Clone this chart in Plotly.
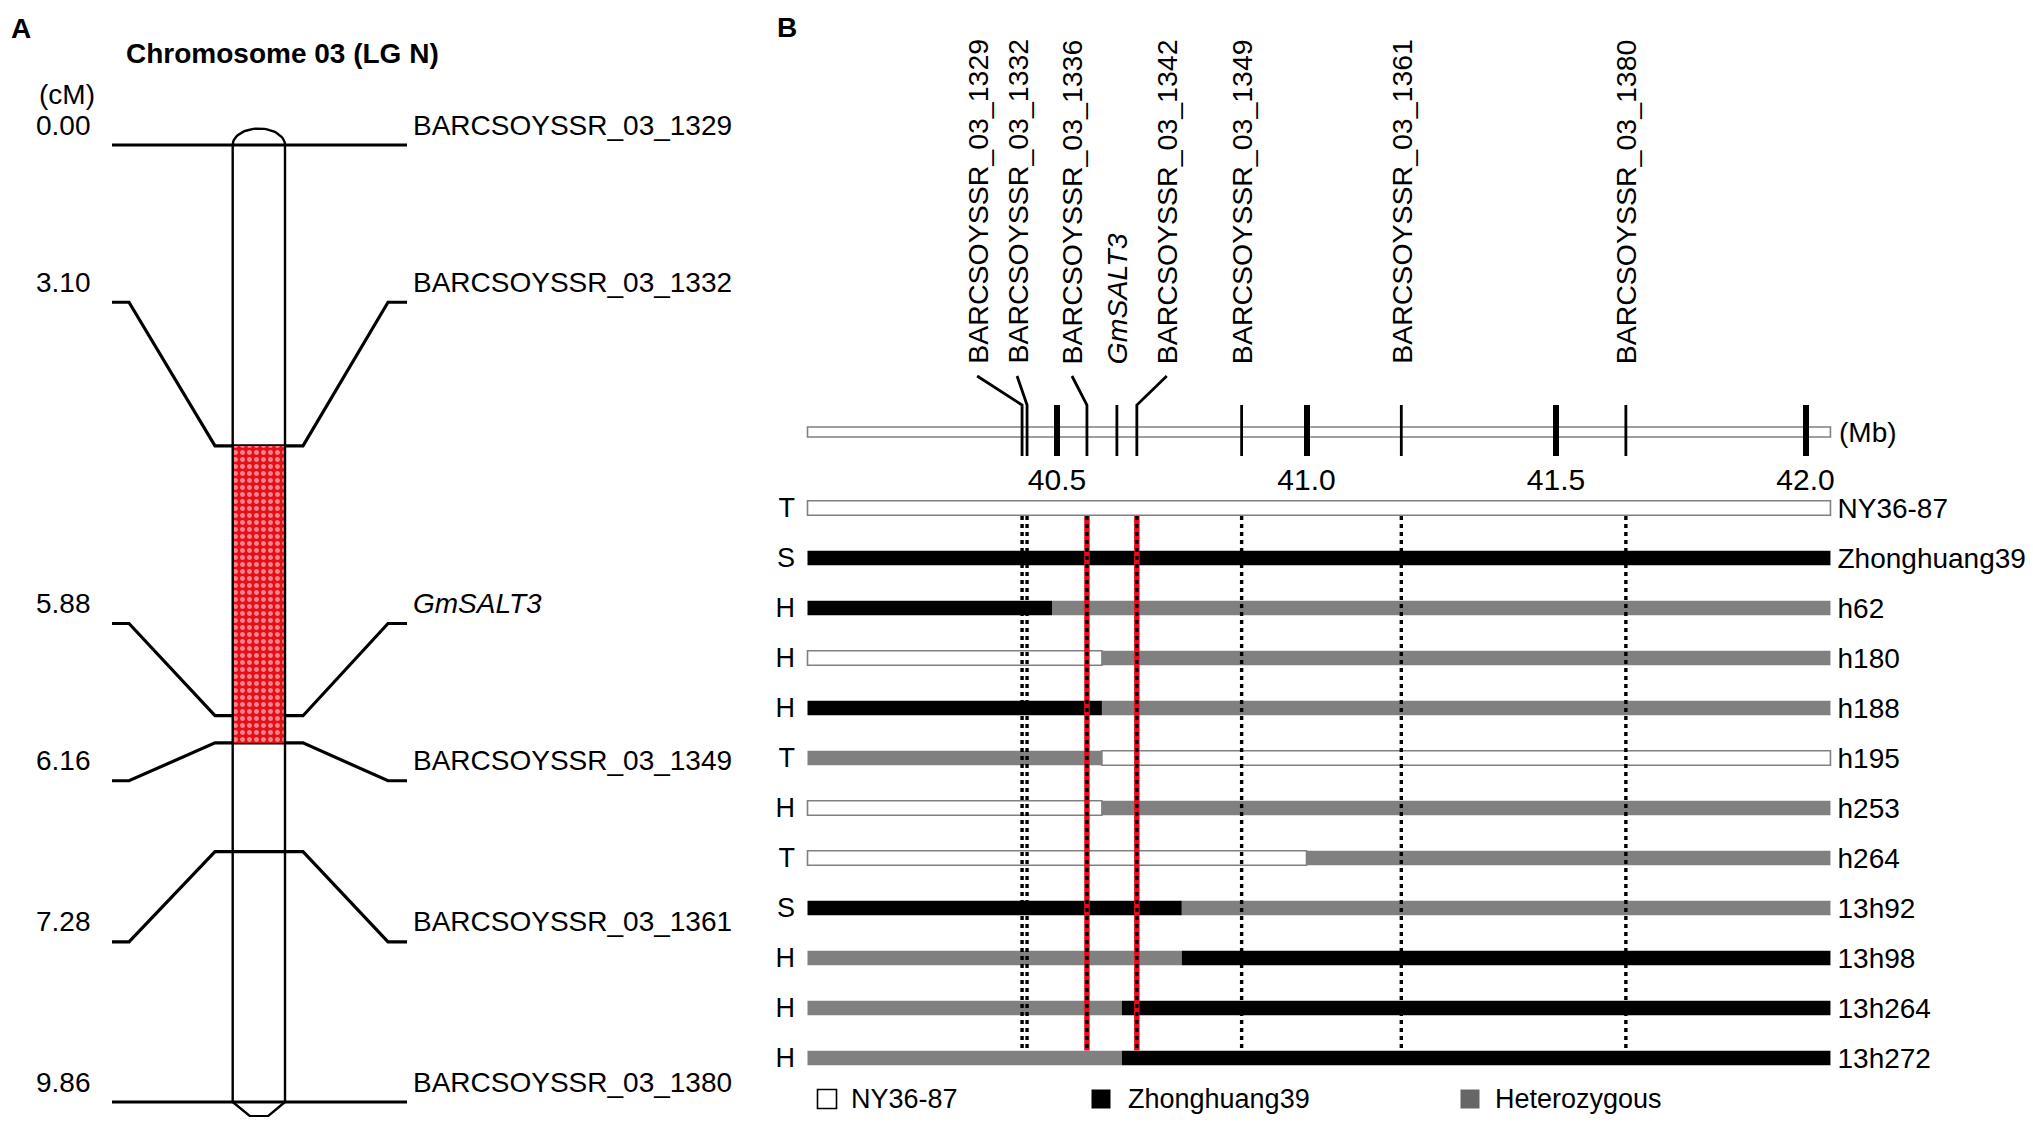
import math
import plotly.graph_objects as go

# ---------------- data ----------------
# Panel A: genetic linkage map (cM)
map_markers = ["BARCSOYSSR_03_1329", "BARCSOYSSR_03_1332", "GmSALT3",
               "BARCSOYSSR_03_1349", "BARCSOYSSR_03_1361", "BARCSOYSSR_03_1380"]
map_cm = [0.00, 3.10, 5.88, 6.16, 7.28, 9.86]
map_cm_text = ["0.00", "3.10", "5.88", "6.16", "7.28", "9.86"]
map_label_cm = [0.00, 1.62, 4.93, 6.55, 8.21, 9.86]   # spread label rows
qtl_interval_cm = [3.10, 6.16]

# Panel B: physical map (Mb)
phys_markers = ["BARCSOYSSR_03_1329", "BARCSOYSSR_03_1332", "BARCSOYSSR_03_1336",
                "GmSALT3", "BARCSOYSSR_03_1342", "BARCSOYSSR_03_1349",
                "BARCSOYSSR_03_1361", "BARCSOYSSR_03_1380"]
phys_mb = [40.43, 40.44, 40.56, 40.62, 40.66, 40.87, 41.19, 41.64]
phys_label_mb = [40.34, 40.42, 40.53, 40.62, 40.72, 40.87, 41.19, 41.64]
flanking_markers = ["BARCSOYSSR_03_1336", "BARCSOYSSR_03_1342"]
chrom_span_mb = [40.0, 42.05]
mb_ticks = [40.5, 41.0, 41.5, 42.0]
mb_tick_text = ["40.5", "41.0", "41.5", "42.0"]

# Genotypes of lines (A = NY36-87, B = Zhonghuang39, H = heterozygous)
lines = ["NY36-87", "Zhonghuang39", "h62", "h180", "h188", "h195", "h253",
         "h264", "13h92", "13h98", "13h264", "13h272"]
phenotypes = ["T", "S", "H", "H", "H", "T", "H", "T", "S", "H", "H", "H"]
left_genotype = ["A", "B", "B", "A", "B", "H", "A", "A", "B", "H", "H", "H"]
breakpoint_mb = [None, None, 40.49, 40.59, 40.59, 40.59, 40.59, 41.00,
                 40.75, 40.75, 40.63, 40.63]
right_genotype = ["A", "B", "H", "H", "H", "A", "H", "H", "H", "B", "B", "B"]
legend_names = {"A": "NY36-87", "B": "Zhonghuang39", "H": "Heterozygous"}

# ---------------- styling / layout constants ----------------
WIN_W, WIN_H = 2033, 1125
OFF = 8                      # default page body margin
FW, FH = WIN_W - 2 * OFF, WIN_H - 2 * OFF
FONT = "Liberation Sans, Arial, sans-serif"
FS = 28
GENO_COLOR = {"A": "white", "B": "black", "H": "#808080"}
LEG_COLOR = {"A": "white", "B": "black", "H": "#666666"}


def pxx(px):
    return (px - OFF) / FW


def pxy(py):
    return 1 - (py - OFF) / FH


# panel A (x in screen-pixel-like units, y in cM)
A_SPLIT = 760
XL0, XL1, XK0, CH_L, CH_R, XK1, XR1, XR0 = 112, 129, 215, 232.7, 285, 303, 388, 407
CM_AT_PY = lambda py: (py - 145) / 97.06

# panel B (x in Mb, y in row units)
MB_AT_PX = lambda px: 40.5 + (px - 1057) / 499.0
ROW_AT_PY = lambda py: (py - 508) / 50.0
CHR_ROW = -1.52
MARK_TOP, MARK_BOT = -2.06, -1.04
CONN_TOP = -2.64
LABEL_BOTTOM = -2.84
LEG_ROW = 11.82

fig = go.Figure()

# ================= Panel A =================
xs, ys = [], []
for cm, lab in zip(map_cm, map_label_cm):
    xs += [XL0, XL1, XK0, XK1, XR1, XR0, None]
    ys += [lab, lab, cm, cm, lab, lab, None]
fig.add_trace(go.Scatter(x=xs, y=ys, mode="lines", xaxis="x2", yaxis="y2",
                         line=dict(color="black", width=3.2), hoverinfo="skip",
                         showlegend=False))
# QTL interval (red checkered)
fig.add_trace(go.Scatter(
    x=[CH_L, CH_R, CH_R, CH_L, CH_L],
    y=[qtl_interval_cm[0], qtl_interval_cm[0], qtl_interval_cm[1], qtl_interval_cm[1], qtl_interval_cm[0]],
    mode="lines", fill="toself", xaxis="x2", yaxis="y2",
    line=dict(width=0, color="red"), fillcolor="red",
    fillpattern=dict(shape=".", bgcolor="#e60f19", fgcolor="white", size=7, solidity=0.4),
    hoverinfo="skip", showlegend=False))
# chromosome outline with caps
cap_h = 0.17
top_x, top_y = [], []
for i in range(0, 31):
    t = math.pi * i / 30
    top_x.append((CH_L + CH_R) / 2 - (CH_R - CH_L) / 2 * math.cos(t))
    top_y.append(map_cm[0] - cap_h * math.sin(t))
cx = [CH_L, CH_L, None, CH_R, CH_R, None] + top_x + [None, CH_L, 250, 268, CH_R]
cy = [map_cm[0], map_cm[-1], None, map_cm[0], map_cm[-1], None] + top_y + \
     [None, map_cm[-1], map_cm[-1] + 0.145, map_cm[-1] + 0.145, map_cm[-1]]
fig.add_trace(go.Scatter(x=cx, y=cy, mode="lines", xaxis="x2", yaxis="y2",
                         line=dict(color="black", width=2.4), hoverinfo="skip",
                         showlegend=False))

ann = []
for name, txt, lab in zip(map_markers, map_cm_text, map_label_cm):
    ann.append(dict(x=93, y=lab, xref="x2", yref="y2", text=txt, showarrow=False,
                    xanchor="right", yanchor="middle", yshift=20,
                    font=dict(size=FS, color="black", family=FONT)))
    label = "<i>%s</i>" % name if name == "GmSALT3" else name
    ann.append(dict(x=411, y=lab, xref="x2", yref="y2", text=label, showarrow=False,
                    xanchor="left", yanchor="middle", yshift=20,
                    font=dict(size=FS, color="black", family=FONT)))
ann.append(dict(x=37, y=pxy(94), xref="x2", yref="paper", text="(cM)", showarrow=False,
                xanchor="left", yanchor="middle", font=dict(size=FS, color="black", family=FONT)))
ann.append(dict(x=pxx(21), y=pxy(29), xref="paper", yref="paper", text="<b>A</b>",
                showarrow=False, xanchor="center", yanchor="middle",
                font=dict(size=FS, color="black", family=FONT)))
ann.append(dict(x=pxx(787), y=pxy(28), xref="paper", yref="paper", text="<b>B</b>",
                showarrow=False, xanchor="center", yanchor="middle",
                font=dict(size=FS, color="black", family=FONT)))
ann.append(dict(x=pxx(282), y=pxy(53), xref="paper", yref="paper",
                text="<b>Chromosome 03 (LG N)</b>", showarrow=False,
                xanchor="center", yanchor="middle",
                font=dict(size=FS, color="black", family=FONT)))

# ================= Panel B =================
segs = {"A": ([], [], []), "B": ([], [], []), "H": ([], [], [])}
for r, (lg, bp, rg) in enumerate(zip(left_genotype, breakpoint_mb, right_genotype)):
    if bp is None:
        segs[lg][0].append(r); segs[lg][1].append(chrom_span_mb[0]); segs[lg][2].append(chrom_span_mb[1] - chrom_span_mb[0])
    else:
        segs[lg][0].append(r); segs[lg][1].append(chrom_span_mb[0]); segs[lg][2].append(bp - chrom_span_mb[0])
        segs[rg][0].append(r); segs[rg][1].append(bp); segs[rg][2].append(chrom_span_mb[1] - bp)
for g in ["H", "B", "A"]:
    rows, bases, lens = segs[g]
    fig.add_trace(go.Bar(
        orientation="h", y=rows, x=lens, base=bases, width=0.29,
        marker=dict(color=GENO_COLOR[g],
                    line=dict(color="#808080", width=1.6 if g == "A" else 0)),
        xaxis="x", yaxis="y", showlegend=False, hoverinfo="skip"))

# chromosome bar (physical)
fig.add_trace(go.Bar(orientation="h", y=[CHR_ROW], x=[chrom_span_mb[1] - chrom_span_mb[0]],
                     base=[chrom_span_mb[0]], width=0.2,
                     marker=dict(color="white", line=dict(color="#808080", width=1.6)),
                     xaxis="x", yaxis="y", showlegend=False, hoverinfo="skip"))

# marker ticks + connectors
mx, my = [], []
for m, lm in zip(phys_mb, phys_label_mb):
    if abs(m - lm) > 1e-9:
        mx += [lm, m, m, None]
        my += [CONN_TOP, MARK_TOP, MARK_BOT, None]
    else:
        mx += [m, m, None]
        my += [MARK_TOP, MARK_BOT, None]
fig.add_trace(go.Scatter(x=mx, y=my, mode="lines", xaxis="x", yaxis="y",
                         line=dict(color="black", width=2.8), hoverinfo="skip",
                         showlegend=False))

# marker names (vertical)
for name, lm in zip(phys_markers, phys_label_mb):
    label = "<i>%s</i>" % name if name == "GmSALT3" else name
    ann.append(dict(x=lm, y=LABEL_BOTTOM, xref="x", yref="y", text=label, textangle=-90,
                    showarrow=False, xanchor="center", yanchor="bottom",
                    font=dict(size=FS + 0.5, color="black", family=FONT)))
ann.append(dict(x=MB_AT_PX(1837), y=CHR_ROW, xref="x", yref="y", text="(Mb)",
                showarrow=False, xanchor="left", yanchor="middle",
                font=dict(size=FS, color="black", family=FONT)))

# vertical dotted guide lines through the genotype panel
for name, m in zip(phys_markers, phys_mb):
    if name == "GmSALT3":
        continue
    if name in flanking_markers:
        fig.add_trace(go.Scatter(x=[m, m], y=[0.16, 10.85], mode="lines", xaxis="x", yaxis="y",
                                 line=dict(color="#e60f19", width=5.5), hoverinfo="skip",
                                 showlegend=False))
    fig.add_trace(go.Scatter(x=[m, m], y=[0.16, 10.85], mode="lines", xaxis="x", yaxis="y",
                             line=dict(color="black", width=3.4, dash="4px,4px"),
                             hoverinfo="skip", showlegend=False))

# legend (manual, below the rows)
leg_sq_px = {"A": 827, "B": 1101, "H": 1470}
leg_tx_px = {"A": 849, "B": 1126, "H": 1493}
for g in ["A", "B", "H"]:
    fig.add_trace(go.Scatter(x=[MB_AT_PX(leg_sq_px[g])], y=[LEG_ROW], mode="markers",
                             xaxis="x", yaxis="y",
                             marker=dict(symbol="square", size=19, color=LEG_COLOR[g],
                                         line=dict(color="black", width=1.6 if g == "A" else 0)),
                             hoverinfo="skip", showlegend=False))
    ann.append(dict(x=MB_AT_PX(leg_tx_px[g]), y=LEG_ROW, xref="x", yref="y",
                    text=legend_names[g], showarrow=False, xanchor="left", yanchor="middle",
                    font=dict(size=FS - 1, color="black", family=FONT)))

# dummy trace to activate the phenotype axis
fig.add_trace(go.Scatter(x=[None], y=[None], xaxis="x", yaxis="y3", showlegend=False))

row_range = [ROW_AT_PY(OFF + FH), ROW_AT_PY(OFF)]
fig.update_layout(
    width=FW, height=FH, autosize=False,
    margin=dict(l=0, r=0, t=0, b=0, pad=0),
    paper_bgcolor="white", plot_bgcolor="rgba(0,0,0,0)",
    barmode="overlay", showlegend=False,
    font=dict(family=FONT, color="black"),
    xaxis=dict(domain=[pxx(A_SPLIT), 1], range=[MB_AT_PX(A_SPLIT), MB_AT_PX(OFF + FW)],
               anchor="free", position=pxy(456), side="bottom",
               tickvals=mb_ticks, ticktext=mb_tick_text, ticks="inside",
               ticklen=51, tickwidth=6, tickcolor="black",
               showgrid=False, zeroline=False, showline=False,
               tickfont=dict(size=FS + 2, family=FONT, color="black"),
               ticklabelstandoff=3),
    yaxis=dict(domain=[0, 1], range=row_range, anchor="free",
               position=pxx(1831.5), side="right",
               tickvals=list(range(len(lines))), ticktext=lines, ticks="",
               showgrid=False, zeroline=False, showline=False,
               tickfont=dict(size=FS, family=FONT, color="black"),
               ticklabelstandoff=5),
    yaxis3=dict(overlaying="y", range=row_range, anchor="free",
                position=pxx(797), side="left",
                tickvals=list(range(len(lines))), ticktext=phenotypes, ticks="",
                showgrid=False, zeroline=False, showline=False,
                tickfont=dict(size=FS - 1, family=FONT, color="black"),
                ticklabelstandoff=2),
    xaxis2=dict(domain=[0, pxx(A_SPLIT)], range=[OFF, A_SPLIT], anchor="y2", visible=False),
    yaxis2=dict(domain=[0, 1], range=[CM_AT_PY(OFF + FH), CM_AT_PY(OFF)], anchor="x2", visible=False),
    annotations=ann,
)

fig.write_html("out.html")
